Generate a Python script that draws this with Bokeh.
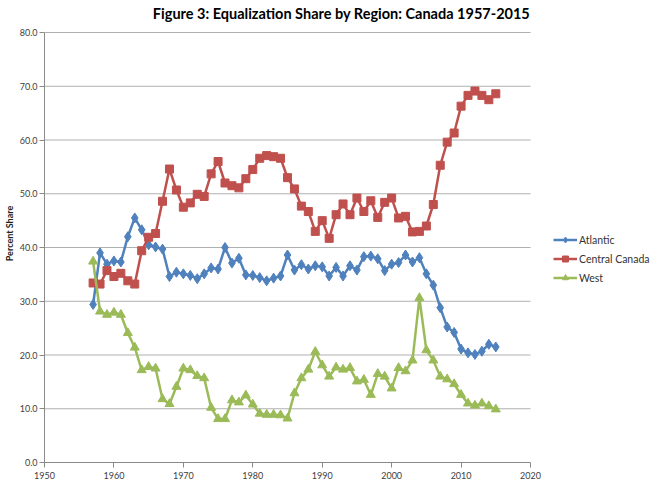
from bokeh.plotting import figure
from bokeh.models import (Legend, LegendItem, NumeralTickFormatter,
                          FixedTicker, Range1d, Label)
from bokeh.embed import file_html
from bokeh.resources import INLINE

years = list(range(1957, 2016))

atlantic = [29.4, 39.0, 36.9, 37.5, 37.3, 42.0, 45.5, 43.3, 40.5, 40.1,
            39.7, 34.6, 35.4, 35.1, 34.8, 34.2, 35.1, 36.2, 36.0, 40.0,
            37.1, 38.0, 34.9, 34.8, 34.4, 33.8, 34.3, 34.7, 38.6, 35.8,
            36.8, 36.0, 36.6, 36.4, 34.7, 36.3, 34.7, 36.6, 35.8, 38.3,
            38.4, 37.9, 35.7, 36.9, 37.2, 38.6, 37.3, 38.1, 35.1, 33.0,
            28.8, 25.2, 24.2, 21.1, 20.4, 20.1, 20.7, 22.0, 21.5]

central = [33.4, 33.2, 35.7, 34.6, 35.2, 33.8, 33.2, 39.4, 41.9, 42.6,
           48.6, 54.6, 50.7, 47.5, 48.3, 49.9, 49.5, 53.7, 56.0, 52.0,
           51.5, 51.1, 52.8, 54.5, 56.6, 57.1, 56.9, 56.6, 53.0, 50.9,
           47.7, 46.7, 43.0, 45.0, 41.7, 46.1, 48.1, 46.1, 49.2, 46.7,
           48.7, 45.6, 48.4, 49.2, 45.5, 45.8, 42.9, 43.0, 44.0, 48.0,
           55.3, 59.6, 61.3, 66.3, 68.3, 69.1, 68.3, 67.5, 68.6]

west = [37.4, 28.1, 27.5, 27.9, 27.5, 24.1, 21.4, 17.2, 17.8, 17.5,
        11.8, 10.9, 14.1, 17.5, 17.2, 16.1, 15.7, 10.2, 8.1, 8.1,
        11.6, 11.2, 12.5, 10.8, 9.1, 8.9, 8.9, 8.8, 8.2, 12.9,
        15.7, 17.3, 20.6, 18.1, 16.0, 17.7, 17.3, 17.6, 15.1, 15.4,
        12.6, 16.5, 16.0, 13.8, 17.6, 17.0, 19.0, 30.6, 20.9, 19.0,
        16.0, 15.5, 14.6, 12.6, 11.0, 10.6, 11.0, 10.5, 9.9]

x_ticks = [1950, 1960, 1970, 1980, 1990, 2000, 2010, 2020]
y_ticks = [0, 10, 20, 30, 40, 50, 60, 70, 80]

title_text = "Figure 3: Equalization Share by Region: Canada 1957-2015"
y_label = "Percent Share"
names = ["Atlantic", "Central Canada", "West"]

# layout: the axes span 486 x 430 px; the frame is enlarged to hold the
# title and the legend, and the axis lines are bounded to the data span
W, H = 660, 490
left, right, top, bottom = 44, 5, 4, 28
axis_w, axis_h = 486, 430
fw, fh = W - left - right, H - top - bottom
x0, x1 = x_ticks[0], x_ticks[-1]
y0, y1 = y_ticks[0], y_ticks[-1]
x_end = x0 + fw * (x1 - x0) / axis_w
y_end = y0 + fh * (y1 - y0) / axis_h

p = figure(width=W, height=H, output_backend="svg", toolbar_location=None,
           title=None, x_range=Range1d(x0, x_end), y_range=Range1d(y0, y_end),
           min_border_left=left, min_border_right=right, min_border_top=top,
           min_border_bottom=bottom)
p.outline_line_color = None
p.background_fill_color = "white"
p.border_fill_color = "white"

p.xgrid.grid_line_color = None
p.ygrid.grid_line_color = None
gy = y_ticks[1:]
p.segment(x0=[x0] * len(gy), x1=[x1] * len(gy), y0=gy, y1=gy,
          line_color="#b0b0b0", line_width=1)

for ax in (p.xaxis[0], p.yaxis[0]):
    ax.axis_line_color = "#8a8a8a"
    ax.major_tick_line_color = "#8a8a8a"
    ax.major_tick_out = 5
    ax.major_tick_in = 0
    ax.minor_tick_line_color = None
    ax.major_label_text_font = "Lato"
    ax.major_label_text_font_size = "9px"
    ax.major_label_text_color = "#404040"
    ax.major_label_standoff = 2

p.xaxis[0].major_label_standoff = 4
p.xaxis[0].ticker = FixedTicker(ticks=x_ticks)
p.yaxis[0].ticker = FixedTicker(ticks=y_ticks)
p.xaxis[0].bounds = (x0, x1)
p.yaxis[0].bounds = (y0, y1)
p.yaxis[0].formatter = NumeralTickFormatter(format="0.0")
p.yaxis[0].axis_label = y_label
p.yaxis[0].axis_label_text_font = "Lato"
p.yaxis[0].axis_label_text_font_style = "bold"
p.yaxis[0].axis_label_text_font_size = "9px"
p.yaxis[0].axis_label_text_color = "#222222"
p.yaxis[0].axis_label_standoff = 2

colors = ["#4F81BD", "#C0504D", "#9BBB59"]
markers = ["diamond", "square", "triangle"]
sizes = [10, 8, 9]
series = [atlantic, central, west]

items = []
for name, vals, c, m, s in zip(names, series, colors, markers, sizes):
    ln = p.line(years, vals, line_color=c, line_width=2.5)
    sc = p.scatter(years, vals, marker=m, size=s, fill_color=c, line_color=c)
    items.append(LegendItem(label=name, renderers=[ln, sc]))

legend = Legend(items=items, location=(509, fh - 258 + top - 27),
                padding=0, margin=0,
                border_line_color=None, background_fill_alpha=0,
                glyph_width=24, glyph_height=15, label_height=15,
                spacing=4, label_standoff=2,
                label_text_font="Lato", label_text_font_size="10.5px",
                label_text_color="#333333")
p.add_layout(legend, "center")

p.add_layout(Label(x=297, y=fh - (13 - top), x_units="screen",
                   y_units="screen", text=title_text, text_align="center",
                   text_baseline="middle", text_font="Lato",
                   text_font_style="bold", text_font_size="14.5px",
                   text_color="black"))

open("out.html", "w").write(file_html(p, INLINE))
